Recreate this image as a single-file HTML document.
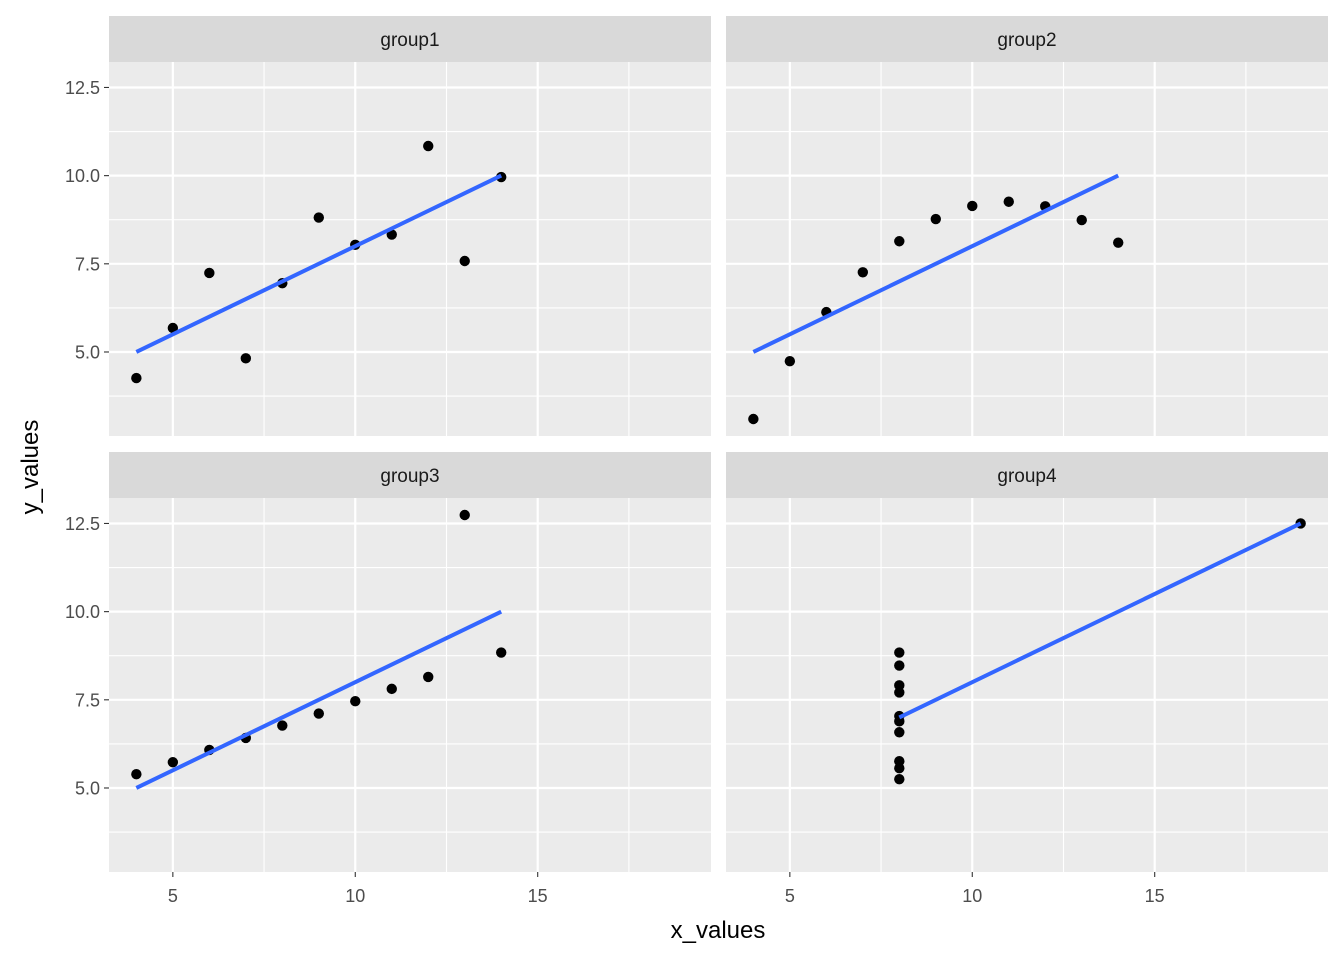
<!DOCTYPE html>
<html><head><meta charset="utf-8"><style>
html,body{margin:0;padding:0;background:#fff;}
svg{display:block;font-family:"Liberation Sans",Arial,sans-serif;}
</style></head><body>
<svg id="chart" width="1344" height="960"></svg>
<script>
const groups = ["group1","group2","group3","group4"];
const xValues1 = [10,8,13,9,11,14,6,4,12,7,5];
const xValues4 = [8,8,8,8,8,8,8,19,8,8,8];
const yValues1 = [8.04,6.95,7.58,8.81,8.33,9.96,7.24,4.26,10.84,4.82,5.68];
const yValues2 = [9.14,8.14,8.74,8.77,9.26,8.10,6.13,3.10,9.13,7.26,4.74];
const yValues3 = [7.46,6.77,12.74,7.11,7.81,8.84,6.08,5.39,8.15,6.42,5.73];
const yValues4 = [6.58,5.76,7.71,8.84,8.47,7.04,5.25,12.50,5.56,7.91,6.89];
const xTicks = [5,10,15];
const xMinor = [7.5,12.5,17.5];
const yTicks = [5,7.5,10,12.5];
const yTickLabels = ["5.0","7.5","10.0","12.5"];
const yMinor = [3.75,6.25,8.75,11.25];

const xsByGroup=[xValues1,xValues1,xValues1,xValues4];
const ysByGroup=[yValues1,yValues2,yValues3,yValues4];
const NS="http://www.w3.org/2000/svg";
const svg=document.getElementById('chart');
function mk(tag,attrs,parent){const e=document.createElementNS(NS,tag);for(const k in attrs)e.setAttribute(k,attrs[k]);(parent||svg).appendChild(e);return e;}
const panels=[{x0:109,y0:62},{x0:726,y0:62},{x0:109,y0:498},{x0:726,y0:498}];
const PW=602,PH=374;
const XMIN=3.25,XMAX=19.75,YMIN=2.618,YMAX=13.222;
groups.forEach((g,i)=>{
  const p=panels[i];
  const sx=v=>p.x0+(v-XMIN)/(XMAX-XMIN)*PW;
  const sy=v=>p.y0+PH-(v-YMIN)/(YMAX-YMIN)*PH;
  const grp=mk('g',{});
  
  
  const strip=mk('rect',{x:p.x0,y:p.y0-46,width:PW,height:46,fill:'#d9d9d9'},grp);
  
  
  const st=mk('text',{x:p.x0+PW/2,y:p.y0-16,'text-anchor':'middle','font-size':19,fill:'#1a1a1a'},grp);
  st.textContent=g;
  
  
  const bg=mk('rect',{x:p.x0,y:p.y0,width:PW,height:PH,fill:'#ebebeb'},grp);
  
  
  xMinor.forEach(v=>mk('line',{x1:sx(v),x2:sx(v),y1:p.y0,y2:p.y0+PH,stroke:'#fff','stroke-width':1.1},grp));
  yMinor.forEach(v=>mk('line',{x1:p.x0,x2:p.x0+PW,y1:sy(v),y2:sy(v),stroke:'#fff','stroke-width':1.1},grp));
  xTicks.forEach(v=>mk('line',{x1:sx(v),x2:sx(v),y1:p.y0,y2:p.y0+PH,stroke:'#fff','stroke-width':2.2},grp));
  yTicks.forEach(v=>mk('line',{x1:p.x0,x2:p.x0+PW,y1:sy(v),y2:sy(v),stroke:'#fff','stroke-width':2.2},grp));
  if(i%2===0){
    yTicks.forEach((v,k)=>{
      mk('line',{x1:p.x0-5,x2:p.x0,y1:sy(v),y2:sy(v),stroke:'#333','stroke-width':1.1},grp);
      const t=mk('text',{x:p.x0-9,y:sy(v)+6.5,'text-anchor':'end','font-size':18,fill:'#4d4d4d'},grp);
      t.textContent=yTickLabels[k];
      
      
    });
  }
  if(i>=2){
    xTicks.forEach(v=>{
      mk('line',{x1:sx(v),x2:sx(v),y1:p.y0+PH,y2:p.y0+PH+5,stroke:'#333','stroke-width':1.1},grp);
      const t=mk('text',{x:sx(v),y:p.y0+PH+30,'text-anchor':'middle','font-size':18,fill:'#4d4d4d'},grp);
      t.textContent=String(v);
      
      
    });
  }
  const xs=xsByGroup[i],ys=ysByGroup[i],n=xs.length;
  const mx=xs.reduce((a,b)=>a+b,0)/n,my=ys.reduce((a,b)=>a+b,0)/n;
  let sxy=0,sxx=0;for(let k=0;k<n;k++){sxy+=(xs[k]-mx)*(ys[k]-my);sxx+=(xs[k]-mx)**2;}
  const b=sxy/sxx,a=my-b*mx;
  const xl=Math.min(...xs),xh=Math.max(...xs);
  xs.forEach((x,k)=>{
    const c=mk('circle',{cx:sx(x),cy:sy(ys[k]),r:5.2,fill:'#000'},grp);
    
    
  });
  const ln=mk('line',{x1:sx(xl),y1:sy(a+b*xl),x2:sx(xh),y2:sy(a+b*xh),stroke:'#3366ff','stroke-width':4},grp);
  
  
});
const xt=mk('text',{x:718,y:938,'text-anchor':'middle','font-size':24,fill:'#000'});
xt.textContent='x_values';


const yt=mk('text',{x:0,y:0,'text-anchor':'middle','font-size':24,fill:'#000',transform:'translate(38,467) rotate(-90)'});
yt.textContent='y_values';


</script>
</body></html>
